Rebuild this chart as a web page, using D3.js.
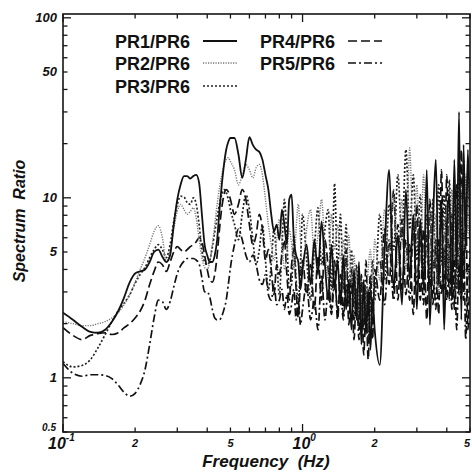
<!DOCTYPE html>
<html><head><meta charset="utf-8">
<script src="https://cdn.jsdelivr.net/npm/d3@7"></script>
<style>
body{margin:0;background:#fff;}
svg{display:block;}
text{font-family:"Liberation Sans",Arial,Helvetica,sans-serif;font-weight:bold;font-style:italic;fill:#111;white-space:pre;}
</style>
</head><body>
<svg id="chart" width="472" height="476"></svg>
<script>
// ---------- data ----------
const freq = [
  0.10,0.11,0.12,0.13,0.14,0.15,0.16,0.17,0.18,0.19,0.20,0.21,0.22,0.23,0.24,0.25,0.26,0.27,0.28,0.29,
  0.30,0.31,0.32,0.33,0.34,0.35,0.36,0.37,0.38,0.39,0.40,0.41,0.42,0.43,0.44,0.45,0.46,0.47,0.48,0.49,0.50,
  0.52,0.54,0.56,0.58,0.60,0.62,0.64,0.66,0.68,0.70,0.72,0.74,0.76,0.78,0.80,0.82,0.84,0.86,0.88,0.90,
  0.92,0.94,0.96,0.98,1.00,
  1.04,1.08,1.12,1.16,1.20,1.24,1.28,1.32,1.36,1.40,1.44,1.48,1.52,1.56,1.60,1.64,1.68,1.72,1.76,1.80,
  1.84,1.88,1.92,1.96,2.00,
  2.1,2.2,2.3,2.4,2.5,2.6,2.7,2.8,2.9,3.0,3.1,3.2,3.3,3.4,3.5,3.6,3.7,3.8,3.9,4.0,
  4.1,4.2,4.3,4.4,4.5,4.6,4.7,4.8,4.9,5.0
];
const pr1 = [
  2.3,2.1,1.92,1.8,1.78,1.85,2.05,2.35,2.8,3.4,3.8,3.9,4.0,4.4,5.0,5.15,4.7,4.4,4.8,7.1,
  9.8,11.9,13.2,13.2,12.8,13.2,13.4,12.1,8.1,5.5,4.8,4.4,4.4,4.8,5.85,8.6,11.8,15.3,18.5,20.5,21.5,
  21.5,17.4,12.9,16.3,21.7,19.7,18.5,18.0,16.3,13.4,11.1,8.1,6.5,7.1,5.85,8.6,7.1,5.5,9.8,10.4,
  5.85,4.8,4.4,3.1,4.0,
  5.5,3.3,5.85,3.75,7.4,4.25,2.7,5.5,3.1,4.5,2.55,4.8,2.4,3.5,1.85,4.0,2.1,4.4,1.53,3.5,
  1.74,3.1,1.43,2.7,1.85,
  1.18,5.15,14.3,3.1,6.2,2.55,11.1,3.5,8.1,2.4,7.6,3.1,14.3,1.97,7.1,16.3,3.3,9.8,1.85,6.7,
  10.4,2.7,16.3,4.0,30,2.1,19.7,5.15,18.5,5.85
];
const pr2 = [
  2.05,2.0,1.95,1.95,2.0,2.05,2.15,2.3,2.55,2.9,3.4,4.0,4.65,5.5,6.5,7.0,6.0,4.4,5.15,6.7,
  8.4,9.2,8.6,8.1,8.4,8.8,7.7,5.85,4.65,4.1,4.0,4.4,5.5,7.1,9.2,11.4,13.4,15.3,16.3,16.7,15.9,
  14.3,11.8,13.4,15.3,14.3,12.9,14.7,15.3,13.4,9.8,7.1,5.5,4.5,5.85,7.6,5.85,4.0,4.8,6.7,5.5,
  4.0,6.7,9.2,5.85,3.75,
  6.7,8.6,4.8,6.2,9.8,5.15,3.5,8.1,5.15,7.1,4.5,5.85,3.75,6.2,3.3,4.8,2.7,4.0,2.4,3.3,
  2.25,4.0,5.15,3.3,5.85,
  3.5,8.6,4.8,10.4,4.25,9.8,4.0,18.9,5.5,11.8,4.5,13.4,4.8,8.6,3.5,8.1,2.9,7.6,3.75,9.2,
  4.0,11.1,4.5,9.8,4.25,11.8,5.15,13.4,6.2,11.1
];
const pr3 = [
  1.23,1.15,1.17,1.26,1.47,1.74,2.05,2.35,2.6,2.9,3.35,3.75,4.1,4.65,5.15,5.5,5.15,4.65,5.5,7.4,
  9.2,10.2,10.1,9.4,9.2,10.0,9.2,7.1,5.15,4.4,4.25,4.5,5.3,6.45,7.8,9.2,10.4,11.1,10.7,9.8,8.6,
  7.1,5.85,8.1,10.4,8.6,5.85,4.25,5.15,7.1,4.5,3.1,4.25,6.7,4.5,2.9,5.15,9.8,5.85,3.1,3.3,
  6.2,3.5,2.7,4.25,8.1,
  4.5,2.7,5.15,8.8,4.25,6.7,8.6,3.1,12.0,4.0,8.1,3.1,7.1,2.7,5.15,2.55,4.25,2.1,3.5,1.97,
  3.1,1.63,2.7,4.5,2.7,
  8.1,3.5,9.2,5.15,13.4,5.85,18.5,6.7,13.4,4.5,10.4,4.0,8.1,3.3,9.8,4.0,11.8,4.25,10.4,3.5,
  12.6,5.15,10.4,3.1,13.4,5.15,16.3,6.7,14.3,8.6
];
const pr4 = [
  1.9,1.72,1.63,1.72,1.76,1.78,1.74,1.78,1.9,2.0,2.15,2.35,2.7,3.3,3.9,4.4,4.25,3.9,4.4,5.0,
  5.35,5.15,5.0,5.15,5.35,5.5,5.7,6.0,5.7,4.8,4.0,3.5,3.4,3.75,4.8,6.7,8.8,10.4,11.1,10.8,9.8,
  8.1,9.2,11.1,9.8,7.1,5.5,6.2,8.1,6.7,4.5,5.15,4.0,2.9,4.25,3.75,4.8,5.85,3.75,2.7,4.25,
  5.15,3.1,2.15,3.5,4.5,
  2.9,4.25,2.4,4.8,2.7,5.85,4.0,2.4,4.5,2.1,3.75,2.25,5.15,1.97,3.5,1.63,3.1,1.85,3.75,1.34,
  2.55,1.26,3.3,1.63,4.0,
  2.7,6.7,3.3,11.1,2.7,7.6,2.9,5.5,2.25,9.2,2.7,6.7,2.1,9.8,2.55,5.85,2.25,14.3,3.1,13.4,
  2.7,8.1,2.4,11.8,2.9,18.5,2.7,9.8,1.85,5.15
];
const pr5 = [
  1.2,1.06,1.02,1.04,1.04,1.03,0.99,0.91,0.83,0.79,0.82,0.92,1.11,1.53,2.15,2.7,2.65,2.4,2.65,3.2,
  3.8,4.2,4.45,4.6,4.6,4.6,4.5,4.3,3.6,3.0,3.0,2.8,2.4,2.15,2.1,2.1,2.2,2.4,2.7,3.3,4.1,
  5.5,6.7,5.85,4.8,4.4,4.8,4.25,3.5,3.3,3.75,2.9,2.7,3.3,2.55,2.7,3.1,2.4,2.9,2.25,2.55,
  3.1,2.1,2.7,1.97,2.4,
  3.3,2.1,2.7,1.85,3.75,2.1,3.1,2.25,3.5,2.4,3.1,2.1,3.3,2.55,4.0,2.1,3.1,1.63,2.7,1.85,
  4.5,2.1,3.75,2.4,3.3,
  4.5,2.55,5.85,2.7,7.1,3.1,5.85,2.7,6.7,3.3,5.85,2.55,6.2,3.1,5.15,2.4,5.85,2.9,5.15,2.7,
  5.5,2.4,4.8,1.85,4.5,2.7,6.7,1.63,4.25,3.1
];
const seriesNames = ["PR1/PR6","PR2/PR6","PR3/PR6","PR4/PR6","PR5/PR6"];
const yTickValues = [0.5, 1, 5, 10, 50, 100];
const yTickLabels = ["0.5", "1", "5", "10", "50", "100"];
const xTickValues = [0.1, 0.2, 0.5, 1, 2, 5];
const xTickBase   = ["10", "2", "5", "10", "2", "5"];
const xTickSup    = ["-1", "", "", "0", "", ""];
const xMinor = [0.1,0.2,0.3,0.4,0.5,0.6,0.7,0.8,0.9,1,2,3,4,5];
const yMinor = [0.5,0.6,0.7,0.8,0.9,1,2,3,4,5,6,7,8,9,10,20,30,40,50,60,70,80,90,100];

// ---------- chart ----------
const svg = d3.select("#chart");
const L = 63, R = 470, T = 14, B = 432;
const x = d3.scaleLog().domain([0.1, 5]).range([L, R]);
const y = d3.scaleLog().domain([0.5, 105]).range([B, T]);
const ink = "#151515";

const isDecade = v => Math.abs(Math.log10(v) - Math.round(Math.log10(v))) < 1e-9;

// inward ticks on all four sides
function tickLen(v){ return isDecade(v) ? 8 : 4.5; }
const gAx = svg.append("g").attr("stroke", ink).attr("stroke-width", 1.3);
xMinor.forEach(v => {
  const px = x(v), len = tickLen(v);
  gAx.append("line").attr("x1", px).attr("x2", px).attr("y1", B).attr("y2", B - len);
  gAx.append("line").attr("x1", px).attr("x2", px).attr("y1", T).attr("y2", T + len);
});
yMinor.forEach(v => {
  const py = y(v), len = tickLen(v);
  gAx.append("line").attr("x1", L).attr("x2", L + len).attr("y1", py).attr("y2", py);
  gAx.append("line").attr("x1", R).attr("x2", R - len).attr("y1", py).attr("y2", py);
});

svg.append("clipPath").attr("id", "clip").append("rect")
  .attr("x", L).attr("y", T).attr("width", R - L).attr("height", B - T);

const styles = [
  {stroke: "#111", width: 1.8, dash: null},
  {stroke: "#777", width: 1.4, dash: "1.2,1.3"},
  {stroke: "#222", width: 1.7, dash: "2,2"},
  {stroke: "#111", width: 1.7, dash: "9,4"},
  {stroke: "#111", width: 1.7, dash: "8,3,2,3"}
];
const allSeries = [pr1, pr2, pr3, pr4, pr5];
const line = d3.line().x(d => x(d[0])).y(d => y(d[1])).curve(d3.curveMonotoneX);
const gLines = svg.append("g").attr("clip-path", "url(#clip)");
[4, 3, 2, 1, 0].forEach(i => {
  const pts = freq.map((f, k) => [f, allSeries[i][k]]);
  gLines.append("path").attr("d", line(pts)).attr("fill", "none")
    .attr("stroke", styles[i].stroke).attr("stroke-width", styles[i].width)
    .attr("stroke-dasharray", styles[i].dash).attr("stroke-linejoin", "round");
});

svg.append("rect").attr("x", L).attr("y", T).attr("width", R - L).attr("height", B - T)
  .attr("fill", "none").attr("stroke", ink).attr("stroke-width", 1.6);

// y tick labels
yTickValues.forEach((v, i) => {
  const small = v === 0.5;
  svg.append("text").attr("x", small ? 56 : 57).attr("y", small ? 431 : y(v) + 4.5)
    .attr("text-anchor", "end").attr("font-size", small ? 10 : 13).text(yTickLabels[i]);
});
// x tick labels
xTickValues.forEach((v, i) => {
  const big = xTickSup[i] !== "";
  const t = svg.append("text").attr("y", big ? 449 : 447)
    .attr("font-size", big ? 16 : 11);
  if (big) {
    t.attr("x", x(v) - (xTickSup[i] === "-1" ? 15 : 10));
    t.append("tspan").text(xTickBase[i]);
    t.append("tspan").attr("dy", -8).attr("font-size", 10).text(xTickSup[i]);
  } else {
    t.attr("x", x(v) - (v === 5 ? 3 : 0)).attr("text-anchor", "middle").text(xTickBase[i]);
  }
});

// axis titles
svg.append("text").attr("x", 266).attr("y", 467).attr("text-anchor", "middle")
  .attr("font-size", 17).text("Frequency  (Hz)");
svg.append("text").attr("transform", "translate(25,221) rotate(-90)")
  .attr("text-anchor", "middle").attr("font-size", 16).text("Spectrum  Ratio");

// legend
const legPos = [[115, 48], [115, 70], [115, 93], [260, 48], [260, 70]];
const legLine = [[203, 237], [203, 237], [203, 237], [348, 382], [348, 382]];
seriesNames.forEach((nm, i) => {
  svg.append("text").attr("x", legPos[i][0]).attr("y", legPos[i][1])
    .attr("font-size", 18).style("font-style", "normal").text(nm);
  svg.append("line").attr("x1", legLine[i][0]).attr("x2", legLine[i][1])
    .attr("y1", legPos[i][1] - 7).attr("y2", legPos[i][1] - 7)
    .attr("stroke", styles[i].stroke).attr("stroke-width", styles[i].width)
    .attr("stroke-dasharray", styles[i].dash);
});
</script>
</body></html>
